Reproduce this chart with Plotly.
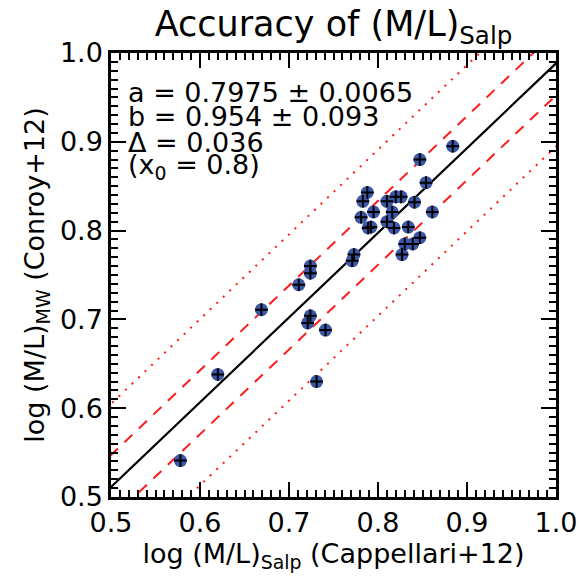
import numpy as np
import plotly.graph_objects as go

# data
x_cap = [0.578, 0.620, 0.669, 0.711, 0.724, 0.724, 0.724, 0.721, 0.741, 0.731,
         0.773, 0.771, 0.781, 0.783, 0.788, 0.795, 0.789, 0.792, 0.810, 0.810,
         0.816, 0.820, 0.826, 0.818, 0.827, 0.830, 0.834, 0.839, 0.847, 0.841,
         0.847, 0.854, 0.861, 0.884]
y_con = [0.541, 0.638, 0.711, 0.739, 0.760, 0.752, 0.704, 0.696, 0.688, 0.630,
         0.773, 0.766, 0.815, 0.833, 0.843, 0.821, 0.803, 0.804, 0.833, 0.810,
         0.821, 0.838, 0.838, 0.803, 0.773, 0.785, 0.804, 0.785, 0.792, 0.832,
         0.880, 0.854, 0.821, 0.895]

# fit parameters shown in the chart
a_fit = 0.7975
a_err = 0.0065
b_fit = 0.954
b_err = 0.093
delta = 0.036
x0 = 0.8

FONT = "DejaVu Sans"
RED = "#ff1a1a"
BLUE = "#3c57a8"

xl = np.array([0.45, 1.05])
yfit = a_fit + b_fit * (xl - x0)

fig = go.Figure()
for off, dash in [(2.6 * delta, "2px,7px"), (-2.6 * delta, "2px,7px"),
                  (delta, "11px,9px"), (-delta, "11px,9px")]:
    fig.add_trace(go.Scatter(x=xl, y=yfit + off, mode="lines",
                             line=dict(color=RED, width=2, dash=dash),
                             hoverinfo="skip", showlegend=False))
fig.add_trace(go.Scatter(x=xl, y=yfit, mode="lines",
                         line=dict(color="black", width=2.2),
                         hoverinfo="skip", showlegend=False))
fig.add_trace(go.Scatter(x=x_cap, y=y_con, mode="markers",
                         marker=dict(size=13, color=BLUE, line=dict(width=0)),
                         showlegend=False))
fig.add_trace(go.Scatter(x=x_cap, y=y_con, mode="markers",
                         marker=dict(size=9, symbol="cross-thin",
                                     line=dict(width=2, color="black")),
                         showlegend=False))

axis_common = dict(
    showgrid=False, zeroline=False, showline=True, linecolor="black",
    linewidth=2.5, mirror="allticks", ticks="inside", ticklen=15,
    tickwidth=2, tickcolor="black", dtick=0.1, tickformat=".1f",
    automargin=False,
    tickfont=dict(family=FONT, size=27, color="black"),
    minor=dict(ticks="inside", ticklen=7, tickwidth=2, tickcolor="black",
               dtick=0.01, showgrid=False),
)
fig.update_xaxes(range=[0.5, 1.0], tick0=0.5, **axis_common,
                 title=dict(text="log (M/L)<sub>Salp</sub> (Cappellari+12)",
                            font=dict(family=FONT, size=27, color="black"),
                            standoff=6))
fig.update_yaxes(range=[0.5, 1.0], tick0=0.5, **axis_common,
                 title=dict(text="log (M/L)<sub>MW</sub> (Conroy+12)",
                            font=dict(family=FONT, size=27, color="black"),
                            standoff=8))

lines = [f"a = {a_fit:.4f} ± {a_err:.4f}",
         f"b = {b_fit:.3f} ± {b_err:.3f}",
         f"Δ = {delta:.3f}",
         f"(x<sub>0</sub> = {x0:.1f})"]
ys_px = [92, 117, 142, 166]
for t, yp in zip(lines, ys_px):
    fig.add_annotation(text=t, xref="paper", yref="paper",
                       x=(126 - 111) / 445, y=1 - (yp - 53) / 444,
                       xanchor="left", yanchor="middle", showarrow=False,
                       font=dict(family=FONT, size=27, color="black"))

fig.update_layout(
    width=580, height=584,
    margin=dict(l=111, r=24, t=53, b=87),
    paper_bgcolor="white", plot_bgcolor="white",
    title=dict(text="Accuracy of (M/L)<sub>Salp</sub>",
               font=dict(family=FONT, size=35, color="black"),
               x=(111 + 445 / 2) / 580, xanchor="center",
               y=1 - 24 / 584, yanchor="middle"),
)
fig.write_html("out.html")
